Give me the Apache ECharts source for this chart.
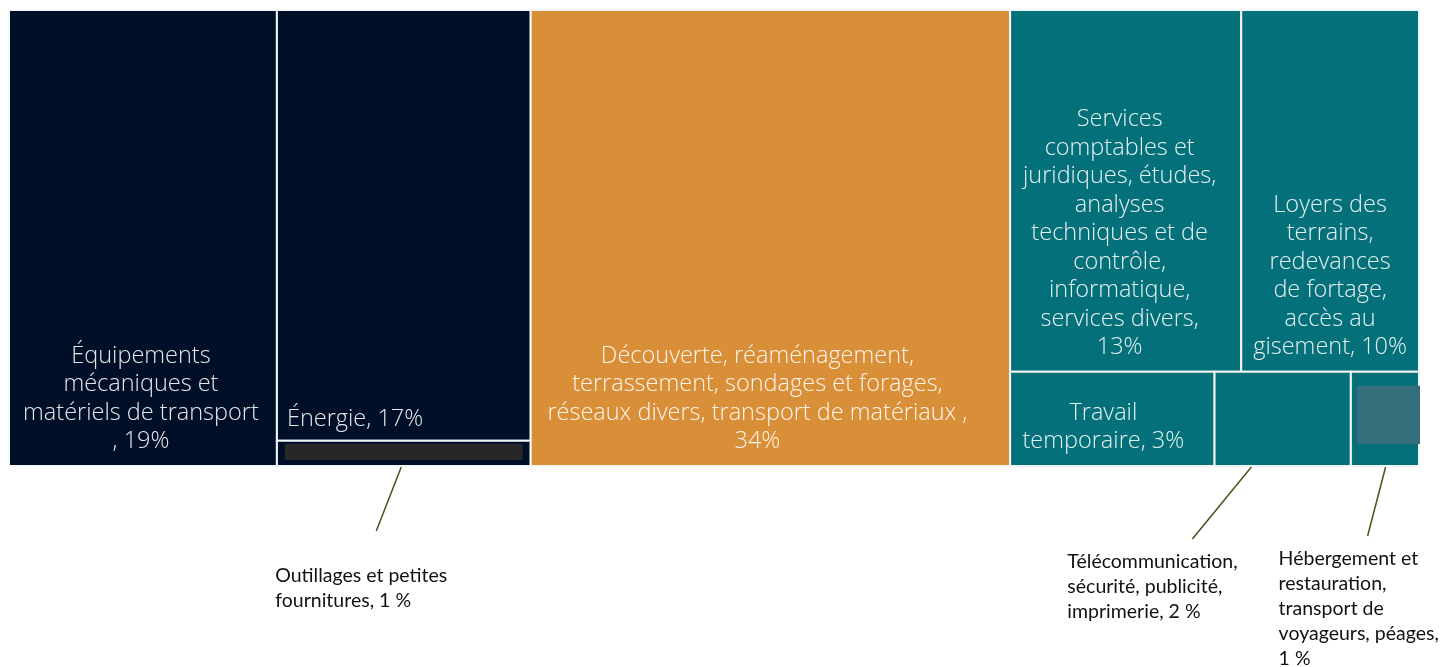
<!DOCTYPE html>
<html lang="fr">
<head>
<meta charset="utf-8">
<title>Répartition des dépenses</title>
<script src="https://cdn.jsdelivr.net/npm/echarts@6/dist/echarts.min.js"></script>
<style>
  html, body { margin: 0; padding: 0; background: #ffffff; }
  #chart { width: 1447px; height: 667px; }
</style>
</head>
<body>
<div id="chart"></div>
<script>
// Expense categories and their share of the total (%)
const categories = [
  'Équipements mécaniques et matériels de transport',
  'Énergie',
  'Outillages et petites fournitures',
  'Découverte, réaménagement, terrassement, sondages et forages, réseaux divers, transport de matériaux',
  'Services comptables et juridiques, études, analyses techniques et de contrôle, informatique, services divers',
  'Loyers des terrains, redevances de fortage, accès au gisement',
  'Travail temporaire',
  'Télécommunication, sécurité, publicité, imprimerie',
  'Hébergement et restauration, transport de voyageurs, péages'
];
const shares = [19, 17, 1, 34, 13, 10, 3, 2, 1];

// Nesting: column of the treemap, and row inside that column
const blockColumn = [0, 1, 1, 2, 3, 3, 3, 3, 3];
const blockRow    = [0, 0, 1, 0, 0, 0, 1, 1, 1];

// Texts written inside the tiles ({v} is replaced by the share)
const tileLabels = [
  'Équipements\nmécaniques et\nmatériels de transport\n, {v}%',
  'Énergie, {v}%',
  '',
  'Découverte, réaménagement,\nterrassement, sondages et forages,\nréseaux divers, transport de matériaux ,\n{v}%',
  'Services\ncomptables et\njuridiques, études,\nanalyses\ntechniques et de\ncontrôle,\ninformatique,\nservices divers,\n{v}%',
  'Loyers des\nterrains,\nredevances\nde fortage,\naccès au\ngisement, {v}%',
  'Travail\ntemporaire, {v}%',
  '',
  ''
];

// Texts written outside, below the small tiles
const calloutLabels = [
  '', '',
  'Outillages et petites\nfournitures, {v} %',
  '', '', '', '',
  'Télécommunication,\nsécurité, publicité,\nimprimerie, {v} %',
  'Hébergement et\nrestauration,\ntransport de\nvoyageurs, péages,\n{v} %'
];

// ---- styling ----
const columnColors = ['#000f28', '#000f28', '#d98f38', '#03707a'];
const tileTextAlign = ['center', 'left', 'center', 'center', 'center', 'center', 'center', 'center', 'center'];
// small nudges of the tile texts, [dx, dy] in px
const tileTextShift = { 0: [-2, 0], 1: [0, 3], 3: [-13, 0], 4: [-6, 0], 6: [-9, 0] };
// empty label boxes shown inside two of the small tiles: [top, right, bottom, left] insets in px
const labelBoxes = {
  2: { inset: [3, 8, 6, 8], color: '#272727' },
  8: { inset: [14, -1, 22, 6], color: '#366f7b' }
};
// leader lines: start as fraction of the tile width, end offset from the tile bottom,
// text offset from the end of the line
const calloutGeom = {
  2: { at: 0.49, dx: -25, dy: 64, tx: -101, ty: 32 },
  7: { at: 0.27, dx: -59, dy: 72, tx: -125, ty: 10 },
  8: { at: 0.51, dx: -18, dy: 69, tx: -89, ty: 10 }
};

// ---- slice-and-dice layout in value space (x: 0..100, y: 0..1) ----
const total = shares.reduce((a, b) => a + b, 0);
const nCols = Math.max(...blockColumn) + 1;
const colTotals = new Array(nCols).fill(0);
shares.forEach((v, i) => { colTotals[blockColumn[i]] += v; });
const colStart = [];
colTotals.reduce((acc, t, c) => { colStart[c] = acc; return acc + t; }, 0);

const tiles = [];
for (let c = 0; c < nCols; c++) {
  const members = shares.map((v, i) => i).filter(i => blockColumn[i] === c);
  const rows = [...new Set(members.map(i => blockRow[i]))].sort((a, b) => a - b);
  let yAcc = 0;
  rows.forEach(r => {
    const inRow = members.filter(i => blockRow[i] === r);
    const rowTotal = inRow.reduce((s, i) => s + shares[i], 0);
    const y0 = yAcc / colTotals[c];
    const y1 = (yAcc + rowTotal) / colTotals[c];
    let xAcc = 0;
    inRow.forEach(i => {
      const x0 = colStart[c] + colTotals[c] * xAcc / rowTotal;
      const x1 = colStart[c] + colTotals[c] * (xAcc + shares[i]) / rowTotal;
      tiles.push([x0, x1, y0, y1, i]);
      xAcc += shares[i];
    });
    yAcc += rowTotal;
  });
}

const tileFont = { fontFamily: '"Open Sans", sans-serif', fontWeight: 300, fontSize: 23.5, lineHeight: 28.5 };
const calloutFont = { fontFamily: 'Lato, sans-serif', fontWeight: 400, fontSize: 19.5, lineHeight: 25 };

function renderTile(params, api) {
  const i = api.value(4);
  const p0 = api.coord([api.value(0), api.value(2)]);
  const p1 = api.coord([api.value(1), api.value(3)]);
  const x = Math.min(p0[0], p1[0]);
  const y = Math.min(p0[1], p1[1]);
  const w = Math.abs(p1[0] - p0[0]);
  const h = Math.abs(p1[1] - p0[1]);
  const children = [{
    type: 'rect',
    shape: { x, y, width: w, height: h },
    style: { fill: columnColors[blockColumn[i]], stroke: '#f4f6f7', lineWidth: 2 }
  }];
  const box = labelBoxes[i];
  if (box) {
    const [t, r, b, l] = box.inset;
    children.push({
      type: 'rect',
      shape: { x: x + l, y: y + t, width: w - l - r, height: h - t - b },
      style: { fill: box.color }
    });
  }
  if (tileLabels[i]) {
    const align = tileTextAlign[i];
    const shift = tileTextShift[i] || [0, 0];
    children.push({
      type: 'text',
      style: Object.assign({
        text: tileLabels[i].replace('{v}', shares[i]),
        x: (align === 'left' ? x + 10 : x + w / 2) + shift[0],
        y: y + h - 10 + shift[1],
        align: align,
        verticalAlign: 'bottom',
        fill: 'rgba(255,255,255,0.9)'
      }, tileFont)
    });
  }
  const g = calloutGeom[i];
  if (g && calloutLabels[i]) {
    const sx = x + w * g.at;
    const sy = y + h + 1;
    const ex = sx + g.dx;
    const ey = sy + g.dy;
    children.push({
      type: 'line',
      shape: { x1: sx, y1: sy, x2: ex, y2: ey },
      style: { stroke: '#4b5416', lineWidth: 1.5 }
    });
    children.push({
      type: 'text',
      style: Object.assign({
        text: calloutLabels[i].replace('{v}', shares[i]),
        x: ex + g.tx,
        y: ey + g.ty,
        align: 'left',
        verticalAlign: 'top',
        fill: '#111111'
      }, calloutFont)
    });
  }
  return { type: 'group', children };
}

const chart = echarts.init(document.getElementById('chart'), null, { renderer: 'canvas' });
chart.setOption({
  animation: false,
  backgroundColor: '#ffffff',
  grid: { left: 9, top: 10, width: 1410, height: 456, containLabel: false },
  xAxis: { type: 'value', min: 0, max: total, show: false },
  yAxis: { type: 'value', min: 0, max: 1, inverse: true, show: false },
  series: [{
    type: 'custom',
    name: 'Dépenses',
    clip: false,
    renderItem: renderTile,
    encode: { x: [0, 1], y: [2, 3] },
    data: tiles
  }]
});
</script>
</body>
</html>
